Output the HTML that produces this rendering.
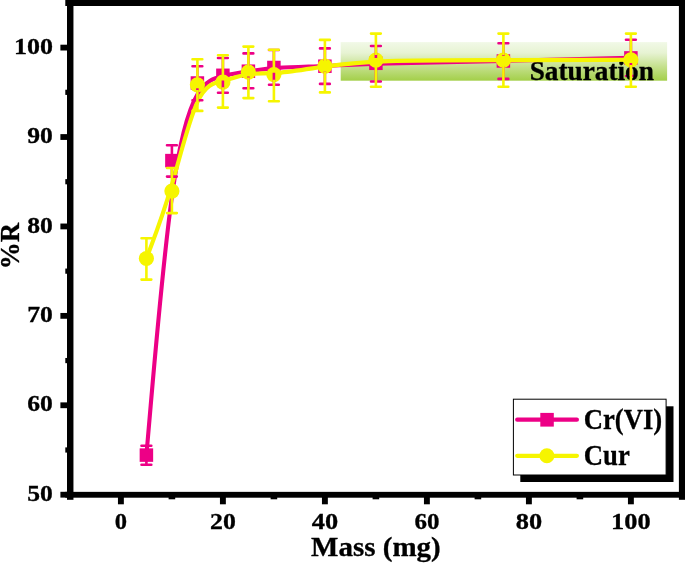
<!DOCTYPE html><html><head><meta charset="utf-8"><title>Mass vs %R</title>
<style>html,body{margin:0;padding:0;background:#fff;overflow:hidden}svg{display:block;will-change:transform}text{font-family:"Liberation Serif",serif;font-weight:bold;fill:#000;stroke:#000;stroke-width:0.3px}</style></head><body>
<svg width="685" height="563" viewBox="0 0 685 563">
<defs><linearGradient id="g" x1="0" y1="0" x2="0" y2="1"><stop offset="0" stop-color="#f1f9e7"/><stop offset="0.28" stop-color="#e7f3d3"/><stop offset="0.62" stop-color="#c6e190"/><stop offset="1" stop-color="#a3cf49"/></linearGradient></defs>
<rect width="685" height="563" fill="#fff"/>
<rect x="340.7" y="42.1" width="326.4" height="38.6" fill="url(#g)"/>
<path d="M626.0,76.0h9.8" stroke="#ed0086" stroke-width="2.6" stroke-linecap="round" fill="none"/>
<text x="529.7" y="79.5" font-size="26.8" text-anchor="start" textLength="124.2" lengthAdjust="spacingAndGlyphs" stroke-width="0.5">Saturation</text>
<g fill="#000">
<rect x="65.3" y="-1" width="620" height="7.0"/>
<rect x="67.0" y="-1" width="6.45" height="500.8"/>
<rect x="678.9" y="-1" width="7" height="500.8"/>
<rect x="65.3" y="491.85" width="620" height="5.85"/>
<rect x="60.4" y="491.80" width="7" height="5.8"/>
<rect x="60.4" y="402.38" width="7" height="5.8"/>
<rect x="60.4" y="312.96" width="7" height="5.8"/>
<rect x="60.4" y="223.54" width="7" height="5.8"/>
<rect x="60.4" y="134.12" width="7" height="5.8"/>
<rect x="60.4" y="44.70" width="7" height="5.8"/>
<rect x="65.3" y="447.39" width="2" height="5.2"/>
<rect x="65.3" y="357.97" width="2" height="5.2"/>
<rect x="65.3" y="268.55" width="2" height="5.2"/>
<rect x="65.3" y="179.13" width="2" height="5.2"/>
<rect x="65.3" y="89.71" width="2" height="5.2"/>
<rect x="117.95" y="497" width="5.9" height="7.3"/>
<rect x="219.95" y="497" width="5.9" height="7.3"/>
<rect x="321.95" y="497" width="5.9" height="7.3"/>
<rect x="423.95" y="497" width="5.9" height="7.3"/>
<rect x="525.95" y="497" width="5.9" height="7.3"/>
<rect x="627.95" y="497" width="5.9" height="7.3"/>
<rect x="168.60" y="497" width="6.6" height="2.3"/>
<rect x="270.60" y="497" width="6.6" height="2.3"/>
<rect x="372.60" y="497" width="6.6" height="2.3"/>
<rect x="474.60" y="497" width="6.6" height="2.3"/>
<rect x="576.60" y="497" width="6.6" height="2.3"/>
</g>
<text x="27.3" y="500.8" font-size="22.3" text-anchor="start" textLength="25.6" lengthAdjust="spacingAndGlyphs">50</text>
<text x="27.3" y="411.4" font-size="22.3" text-anchor="start" textLength="25.6" lengthAdjust="spacingAndGlyphs">60</text>
<text x="27.3" y="322.0" font-size="22.3" text-anchor="start" textLength="25.6" lengthAdjust="spacingAndGlyphs">70</text>
<text x="27.3" y="232.5" font-size="22.3" text-anchor="start" textLength="25.6" lengthAdjust="spacingAndGlyphs">80</text>
<text x="27.3" y="143.1" font-size="22.3" text-anchor="start" textLength="25.6" lengthAdjust="spacingAndGlyphs">90</text>
<text x="13.9" y="53.7" font-size="22.3" text-anchor="start" textLength="39.0" lengthAdjust="spacingAndGlyphs">100</text>
<text x="114.8" y="529.2" font-size="22.3" text-anchor="start" textLength="12.3" lengthAdjust="spacingAndGlyphs">0</text>
<text x="210.0" y="529.2" font-size="22.3" text-anchor="start" textLength="25.8" lengthAdjust="spacingAndGlyphs">20</text>
<text x="311.7" y="529.2" font-size="22.3" text-anchor="start" textLength="26.4" lengthAdjust="spacingAndGlyphs">40</text>
<text x="414.4" y="529.2" font-size="22.3" text-anchor="start" textLength="25.0" lengthAdjust="spacingAndGlyphs">60</text>
<text x="515.7" y="529.2" font-size="22.3" text-anchor="start" textLength="26.4" lengthAdjust="spacingAndGlyphs">80</text>
<text x="611.1" y="529.2" font-size="22.3" text-anchor="start" textLength="39.6" lengthAdjust="spacingAndGlyphs">100</text>
<text x="311.1" y="556.1" font-size="26.5" text-anchor="start" textLength="129.6" lengthAdjust="spacingAndGlyphs" stroke-width="0.5">Mass (mg)</text>
<text transform="translate(18.7,269.3) rotate(-90)" font-size="28" stroke-width="0.5" textLength="46.4" lengthAdjust="spacingAndGlyphs">%R</text>
<path d="M146.40,455.10 C146.40,455.10 146.40,455.10 150.65,406.02 C154.90,356.93 163.40,258.77 171.90,196.75 C180.40,134.73 188.90,108.87 197.40,94.65 C205.90,80.43 214.40,77.87 222.90,75.90 C231.40,73.93 239.90,72.57 248.40,71.27 C256.90,69.97 265.40,68.73 278.15,67.90 C290.90,67.07 307.90,66.63 324.90,65.93 C341.90,65.23 358.90,64.27 388.65,63.40 C418.40,62.53 460.90,61.77 503.40,60.87 C545.90,59.97 588.40,58.93 609.65,58.42 C630.90,57.90 630.90,57.90 630.90,57.90" fill="none" stroke="#ed0086" stroke-width="4.1" stroke-linejoin="round"/>
<rect x="139.65" y="448.35" width="13.5" height="13.5" fill="#ed0086"/>
<rect x="165.15" y="153.85" width="13.5" height="13.5" fill="#ed0086"/>
<rect x="190.65" y="76.25" width="13.5" height="13.5" fill="#ed0086"/>
<rect x="216.15" y="68.55" width="13.5" height="13.5" fill="#ed0086"/>
<rect x="241.65" y="64.45" width="13.5" height="13.5" fill="#ed0086"/>
<rect x="267.15" y="60.75" width="13.5" height="13.5" fill="#ed0086"/>
<rect x="318.15" y="59.45" width="13.5" height="13.5" fill="#ed0086"/>
<rect x="369.15" y="56.55" width="13.5" height="13.5" fill="#ed0086"/>
<rect x="496.65" y="54.25" width="13.5" height="13.5" fill="#ed0086"/>
<rect x="624.15" y="51.15" width="13.5" height="13.5" fill="#ed0086"/>
<path d="M146.40,258.50 C146.40,258.50 146.40,258.50 150.65,247.27 C154.90,236.03 163.40,213.57 171.90,184.62 C180.40,155.67 188.90,120.23 197.40,102.07 C205.90,83.90 214.40,83.00 222.90,80.90 C231.40,78.80 239.90,75.50 248.40,74.25 C256.90,73.00 265.40,73.80 278.15,72.80 C290.90,71.80 307.90,69.00 324.90,66.58 C341.90,64.17 358.90,62.13 388.65,61.13 C418.40,60.13 460.90,60.17 503.40,60.12 C545.90,60.07 588.40,59.93 609.65,59.87 C630.90,59.80 630.90,59.80 630.90,59.80" fill="none" stroke="#f6f500" stroke-width="4.1" stroke-linejoin="round"/>
<circle cx="146.40" cy="258.50" r="7.6" fill="#f6f500"/>
<circle cx="171.90" cy="191.10" r="7.6" fill="#f6f500"/>
<circle cx="197.40" cy="84.80" r="7.6" fill="#f6f500"/>
<circle cx="222.90" cy="82.10" r="7.6" fill="#f6f500"/>
<circle cx="248.40" cy="72.20" r="7.6" fill="#f6f500"/>
<circle cx="273.90" cy="74.60" r="7.6" fill="#f6f500"/>
<circle cx="324.90" cy="66.20" r="7.6" fill="#f6f500"/>
<circle cx="375.90" cy="60.10" r="7.6" fill="#f6f500"/>
<circle cx="503.40" cy="60.20" r="7.6" fill="#f6f500"/>
<circle cx="630.90" cy="59.80" r="7.6" fill="#f6f500"/>
<path d="M146.4,445.7V449.9M146.4,460.3V464.8" stroke="#ed0086" stroke-width="2.6" fill="none"/>
<path d="M141.5,445.7h9.8M141.5,464.8h9.8" stroke="#ed0086" stroke-width="2.6" stroke-linecap="round" fill="none"/>
<path d="M171.9,145.3V155.4M171.9,165.8V176.6" stroke="#ed0086" stroke-width="2.6" fill="none"/>
<path d="M167.0,145.3h9.8M167.0,176.6h9.8" stroke="#ed0086" stroke-width="2.6" stroke-linecap="round" fill="none"/>
<path d="M197.4,66.2V77.8M197.4,88.2V100.2" stroke="#ed0086" stroke-width="2.6" fill="none"/>
<path d="M192.5,66.2h9.8M192.5,100.2h9.8" stroke="#ed0086" stroke-width="2.6" stroke-linecap="round" fill="none"/>
<path d="M222.9,58.0V70.1M222.9,80.5V92.7" stroke="#ed0086" stroke-width="2.6" fill="none"/>
<path d="M218.0,58.0h9.8M218.0,92.7h9.8" stroke="#ed0086" stroke-width="2.6" stroke-linecap="round" fill="none"/>
<path d="M248.4,53.4V66.0M248.4,76.4V88.3" stroke="#ed0086" stroke-width="2.6" fill="none"/>
<path d="M243.5,53.4h9.8M243.5,88.3h9.8" stroke="#ed0086" stroke-width="2.6" stroke-linecap="round" fill="none"/>
<path d="M273.9,50.0V62.3M273.9,72.7V84.8" stroke="#ed0086" stroke-width="2.6" fill="none"/>
<path d="M269.0,50.0h9.8M269.0,84.8h9.8" stroke="#ed0086" stroke-width="2.6" stroke-linecap="round" fill="none"/>
<path d="M324.9,48.4V61.0M324.9,71.4V83.9" stroke="#ed0086" stroke-width="2.6" fill="none"/>
<path d="M320.0,48.4h9.8M320.0,83.9h9.8" stroke="#ed0086" stroke-width="2.6" stroke-linecap="round" fill="none"/>
<path d="M375.9,46.0V58.1M375.9,68.5V81.5" stroke="#ed0086" stroke-width="2.6" fill="none"/>
<path d="M371.0,46.0h9.8M371.0,81.5h9.8" stroke="#ed0086" stroke-width="2.6" stroke-linecap="round" fill="none"/>
<path d="M503.4,43.2V55.8M503.4,66.2V78.9" stroke="#ed0086" stroke-width="2.6" fill="none"/>
<path d="M498.5,43.2h9.8M498.5,78.9h9.8" stroke="#ed0086" stroke-width="2.6" stroke-linecap="round" fill="none"/>
<path d="M630.9,39.8V52.7M630.9,63.1V76.0" stroke="#ed0086" stroke-width="2.6" fill="none"/>
<path d="M626.0,39.8h9.8" stroke="#ed0086" stroke-width="2.6" stroke-linecap="round" fill="none"/>
<path d="M146.4,238.2V253.3M146.4,263.7V279.6" stroke="#f6f500" stroke-width="2.6" fill="none"/>
<path d="M141.5,238.2h9.8M141.5,279.6h9.8" stroke="#f6f500" stroke-width="2.6" stroke-linecap="round" fill="none"/>
<path d="M171.9,168.0V185.9M171.9,196.3V213.1" stroke="#f6f500" stroke-width="2.6" fill="none"/>
<path d="M167.0,168.0h9.8M167.0,213.1h9.8" stroke="#f6f500" stroke-width="2.6" stroke-linecap="round" fill="none"/>
<path d="M197.4,59.3V79.6M197.4,90.0V110.9" stroke="#f6f500" stroke-width="2.6" fill="none"/>
<path d="M192.5,59.3h9.8M192.5,110.9h9.8" stroke="#f6f500" stroke-width="2.6" stroke-linecap="round" fill="none"/>
<path d="M222.9,55.3V76.9M222.9,87.3V107.6" stroke="#f6f500" stroke-width="2.6" fill="none"/>
<path d="M218.0,55.3h9.8M218.0,107.6h9.8" stroke="#f6f500" stroke-width="2.6" stroke-linecap="round" fill="none"/>
<path d="M248.4,46.6V67.0M248.4,77.4V98.1" stroke="#f6f500" stroke-width="2.6" fill="none"/>
<path d="M243.5,46.6h9.8M243.5,98.1h9.8" stroke="#f6f500" stroke-width="2.6" stroke-linecap="round" fill="none"/>
<path d="M273.9,49.8V69.4M273.9,79.8V101.3" stroke="#f6f500" stroke-width="2.6" fill="none"/>
<path d="M269.0,49.8h9.8M269.0,101.3h9.8" stroke="#f6f500" stroke-width="2.6" stroke-linecap="round" fill="none"/>
<path d="M324.9,39.9V61.0M324.9,71.4V92.4" stroke="#f6f500" stroke-width="2.6" fill="none"/>
<path d="M320.0,39.9h9.8M320.0,92.4h9.8" stroke="#f6f500" stroke-width="2.6" stroke-linecap="round" fill="none"/>
<path d="M375.9,33.6V54.9M375.9,65.3V86.7" stroke="#f6f500" stroke-width="2.6" fill="none"/>
<path d="M371.0,33.6h9.8M371.0,86.7h9.8" stroke="#f6f500" stroke-width="2.6" stroke-linecap="round" fill="none"/>
<path d="M503.4,33.6V55.0M503.4,65.4V86.7" stroke="#f6f500" stroke-width="2.6" fill="none"/>
<path d="M498.5,33.6h9.8M498.5,86.7h9.8" stroke="#f6f500" stroke-width="2.6" stroke-linecap="round" fill="none"/>
<path d="M630.9,33.6V54.6M630.9,65.0V86.7" stroke="#f6f500" stroke-width="2.6" fill="none"/>
<path d="M626.0,33.6h9.8M626.0,86.7h9.8" stroke="#f6f500" stroke-width="2.6" stroke-linecap="round" fill="none"/>
<rect x="520.3" y="406.3" width="153.2" height="75.7" fill="#000"/>
<rect x="513.4" y="399.2" width="152.7" height="75.8" fill="#fff" stroke="#000" stroke-width="1"/>
<path d="M517.2,419.7H576.9" stroke="#ed0086" stroke-width="4.2" stroke-linecap="round"/>
<rect x="540.3" y="412.9" width="13.5" height="13.7" fill="#ed0086"/>
<path d="M517.2,455.8H576.9" stroke="#f6f500" stroke-width="4.2" stroke-linecap="round"/>
<circle cx="546.9" cy="455.8" r="7.5" fill="#f6f500"/>
<text x="583.8" y="428.9" font-size="28.6" text-anchor="start" textLength="78.4" lengthAdjust="spacingAndGlyphs" stroke-width="0.5">Cr(VI)</text>
<text x="583.8" y="465.4" font-size="28.6" text-anchor="start" textLength="46.0" lengthAdjust="spacingAndGlyphs" stroke-width="0.5">Cur</text>
</svg></body></html>
